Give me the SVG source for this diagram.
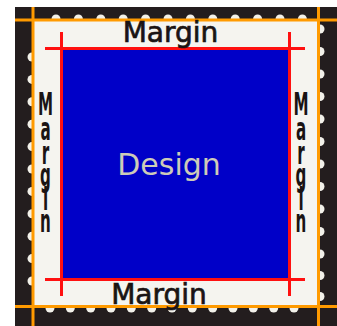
<svg xmlns="http://www.w3.org/2000/svg" width="337" height="326" viewBox="0 0 337 326">
<style>
.lbl{font-family:"DejaVu Sans",sans-serif;font-size:28px;fill:#1a1414;stroke:#1a1414;stroke-width:0.7;text-anchor:middle}
.vl{font-family:"DejaVu Sans",sans-serif;font-weight:bold;font-size:24px;fill:#1a1414;text-anchor:middle}
.perf{fill:#f2f1ea}
.org{stroke:#ff9a00;stroke-width:3}
.red{stroke:#ff1010;stroke-width:3}
</style>
<rect width="337" height="326" fill="#ffffff"/>
<g id="stamp-frame">
<rect x="15" y="7" width="322" height="319" fill="#231d1e"/>
<g id="perforations">
<circle class="perf" cx="56" cy="19" r="4.5"/><circle class="perf" cx="78.4" cy="19" r="4.5"/><circle class="perf" cx="100.8" cy="19" r="4.5"/><circle class="perf" cx="123.2" cy="19" r="4.5"/><circle class="perf" cx="145.6" cy="19" r="4.5"/><circle class="perf" cx="168" cy="19" r="4.5"/><circle class="perf" cx="190.4" cy="19" r="4.5"/><circle class="perf" cx="212.8" cy="19" r="4.5"/><circle class="perf" cx="235.2" cy="19" r="4.5"/><circle class="perf" cx="257.6" cy="19" r="4.5"/><circle class="perf" cx="280" cy="19" r="4.5"/><circle class="perf" cx="302.4" cy="19" r="4.5"/>
<circle class="perf" cx="32" cy="57" r="4.5"/><circle class="perf" cx="32" cy="79.4" r="4.5"/><circle class="perf" cx="32" cy="101.8" r="4.5"/><circle class="perf" cx="32" cy="124.2" r="4.5"/><circle class="perf" cx="32" cy="146.6" r="4.5"/><circle class="perf" cx="32" cy="169" r="4.5"/><circle class="perf" cx="32" cy="191.4" r="4.5"/><circle class="perf" cx="32" cy="213.8" r="4.5"/><circle class="perf" cx="32" cy="236.2" r="4.5"/><circle class="perf" cx="32" cy="258.6" r="4.5"/><circle class="perf" cx="32" cy="281" r="4.5"/>
<circle class="perf" cx="320" cy="29" r="4.5"/><circle class="perf" cx="320" cy="51.5" r="4.5"/><circle class="perf" cx="320" cy="74" r="4.5"/><circle class="perf" cx="320" cy="96.5" r="4.5"/><circle class="perf" cx="320" cy="119" r="4.5"/><circle class="perf" cx="320" cy="141.5" r="4.5"/><circle class="perf" cx="320" cy="164" r="4.5"/><circle class="perf" cx="320" cy="186.5" r="4.5"/><circle class="perf" cx="320" cy="209" r="4.5"/><circle class="perf" cx="320" cy="231.5" r="4.5"/><circle class="perf" cx="320" cy="254" r="4.5"/><circle class="perf" cx="320" cy="275.5" r="4.5"/><circle class="perf" cx="320" cy="296.5" r="4.5"/>
<circle class="perf" cx="50" cy="308" r="4.5"/><circle class="perf" cx="70.3" cy="308" r="4.5"/><circle class="perf" cx="90.7" cy="308" r="4.5"/><circle class="perf" cx="111" cy="308" r="4.5"/><circle class="perf" cx="131.3" cy="308" r="4.5"/><circle class="perf" cx="151.7" cy="308" r="4.5"/><circle class="perf" cx="172" cy="308" r="4.5"/><circle class="perf" cx="192.3" cy="308" r="4.5"/><circle class="perf" cx="212.7" cy="308" r="4.5"/><circle class="perf" cx="233" cy="308" r="4.5"/><circle class="perf" cx="253.3" cy="308" r="4.5"/><circle class="perf" cx="273.7" cy="308" r="4.5"/><circle class="perf" cx="294" cy="308" r="4.5"/>
</g>
<rect x="33" y="20" width="286" height="287" fill="#f5f4ef"/>
</g>
<g id="design-area">
<rect x="61.5" y="48.5" width="228" height="231" fill="#0000c8"/>
<text x="169" y="175" style="font-family:'DejaVu Sans',sans-serif;font-size:30px;fill:#cdcbb8;text-anchor:middle">Design</text>
</g>
<g id="connectors">
<line class="org" x1="15" y1="20" x2="337" y2="20"/>
<line class="org" x1="15" y1="306.5" x2="337" y2="306.5"/>
<line class="org" x1="33" y1="7" x2="33" y2="326"/>
<line class="org" x1="318.5" y1="7" x2="318.5" y2="326"/>
<line class="red" x1="45" y1="48.5" x2="305" y2="48.5"/>
<line class="red" x1="45" y1="279.5" x2="305" y2="279.5"/>
<line class="red" x1="61.5" y1="32" x2="61.5" y2="296"/>
<line class="red" x1="289.5" y1="32" x2="289.5" y2="296"/>
</g>
<g id="margin-top"><text class="lbl" x="170.5" y="42">Margin</text></g>
<g id="margin-bottom"><text class="lbl" x="159" y="304">Margin</text></g>
<g id="margin-left" transform="translate(45.5,0) scale(0.63,1.3)">
<text class="vl" x="0" y="88.5">M</text><text class="vl" x="0" y="107.7">a</text><text class="vl" x="0" y="126.2">r</text><text class="vl" x="0" y="143.1">g</text><text class="vl" x="0" y="161.5">i</text><text class="vl" x="0" y="178.5">n</text>
</g>
<g id="margin-right" transform="translate(301,0) scale(0.63,1.3)">
<text class="vl" x="0" y="88.5">M</text><text class="vl" x="0" y="107.7">a</text><text class="vl" x="0" y="126.2">r</text><text class="vl" x="0" y="143.1">g</text><text class="vl" x="0" y="161.5">i</text><text class="vl" x="0" y="178.5">n</text>
</g>
</svg>
